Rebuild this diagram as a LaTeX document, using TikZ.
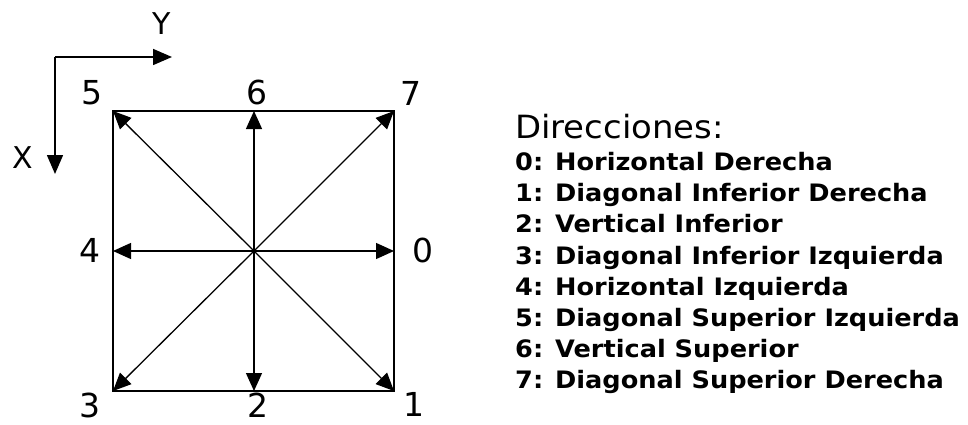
\documentclass[tikz,border=0pt]{standalone}
\usepackage{fontspec}
\setmainfont{DejaVu Sans}
\usetikzlibrary{arrows.meta}
\newcommand{\legstretch}[1]{\scalebox{1.067}[1]{#1}}
\newcommand{\titstretch}[1]{\scalebox{1.06}[1]{#1}}
\begin{document}
\begin{tikzpicture}[x=1pt,y=-1pt,
  box/.style={line width=2pt},
  dirarrow/.style={line width=1.3pt,-{Triangle[length=18pt,width=16pt]}},
  axisarrow/.style={line width=1.6pt,-{Triangle[length=19pt,width=16pt]}},
  numlabel/.style={inner sep=0pt,font=\fontsize{33}{33}\selectfont},
  axislabel/.style={inner sep=0pt,font=\fontsize{30}{30}\selectfont},
  legendtitle/.style={inner sep=0pt,anchor=base west,font=\fontsize{32}{32}\selectfont},
  legenditem/.style={inner sep=0pt,anchor=base west,font=\bfseries\fontsize{24}{24}\selectfont}]
\useasboundingbox[fill=white] (0,0) rectangle (968,425);
% axes
\coordinate (o) at (55,57);
\coordinate (yend) at (172,57);
\coordinate (xend) at (55,174);
\draw[axisarrow] (o) -- (yend);
\draw[axisarrow] (o) -- (xend);
\node[axislabel] (Y) at (162,24) {Y};
\node[axislabel] (X) at (23,158) {X};
% square
\coordinate (c) at (254,251);
\coordinate (d0) at (394,251);
\coordinate (d1) at (394,391);
\coordinate (d2) at (254,391);
\coordinate (d3) at (113,391);
\coordinate (d4) at (113,251);
\coordinate (d5) at (113,111);
\coordinate (d6) at (254,111);
\coordinate (d7) at (394,111);
\draw[box] (d5) rectangle (d1);
\foreach \i in {0,...,7} {\draw[dirarrow] (c) -- (d\i);}
% corner labels
\node[numlabel] (n5) at (92,93) {5};
\node[numlabel] (n6) at (257,92) {6};
\node[numlabel] (n7) at (411,93) {7};
\node[numlabel] (n4) at (90,250) {4};
\node[numlabel] (n0) at (423,250) {0};
\node[numlabel] (n3) at (90,405) {3};
\node[numlabel] (n2) at (258,405) {2};
\node[numlabel] (n1) at (414,404) {1};
% legend
\node[legendtitle] (title) at (515,139) {\titstretch{Direcciones:}};
\node[legenditem] (l0) at (515,170.5) {\legstretch{0: Horizontal Derecha}};
\node[legenditem] (l1) at (515,201.7) {\legstretch{1: Diagonal Inferior Derecha}};
\node[legenditem] (l2) at (515,232.9) {\legstretch{2: Vertical Inferior}};
\node[legenditem] (l3) at (515,264.1) {\legstretch{3: Diagonal Inferior Izquierda}};
\node[legenditem] (l4) at (515,295.3) {\legstretch{4: Horizontal Izquierda}};
\node[legenditem] (l5) at (515,326.5) {\legstretch{5: Diagonal Superior Izquierda}};
\node[legenditem] (l6) at (515,357.7) {\legstretch{6: Vertical Superior}};
\node[legenditem] (l7) at (515,388.9) {\legstretch{7: Diagonal Superior Derecha}};
\end{tikzpicture}
\end{document}
